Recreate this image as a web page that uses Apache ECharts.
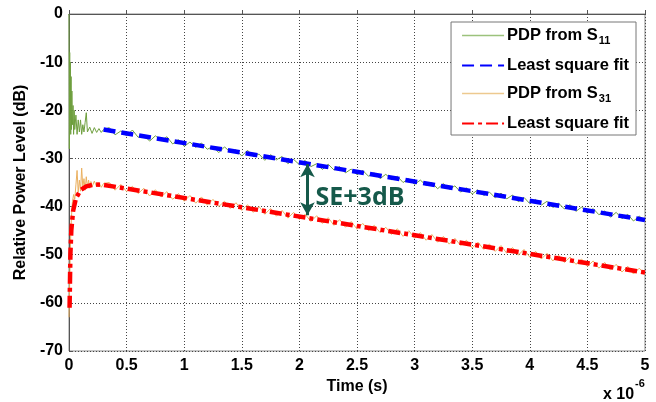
<!DOCTYPE html>
<html><head><meta charset="utf-8">
<script src="https://cdn.jsdelivr.net/npm/echarts@6/dist/echarts.min.js"></script>
<style>html,body{margin:0;padding:0;background:#fff}#c{width:656px;height:402px}</style>
</head><body><div id="c"></div>
<script>
// time in microseconds (axis shows x 10^-6 s)
const s11Time = [0,0.003,0.006,0.009,0.012,0.015,0.018,0.021,0.025,0.03,0.035,0.04,0.045,0.05,0.06,0.07,0.08,0.09,0.1,0.11,0.12,0.13,0.14,0.15,0.16,0.18,0.2,0.22,0.24,0.26,0.28,0.3,
0.35,0.4,0.45,0.5,0.55,0.6,0.65,0.7,0.75,0.8,0.85,0.9,0.95,1,1.05,1.1,1.15,1.2,1.25,1.3,1.35,1.4,1.45,1.5,1.55,1.6,1.65,1.7,1.75,1.8,1.85,1.9,1.95,2,2.05,2.1,2.15,2.2,2.25,2.3,2.35,2.4,2.45,2.5,2.55,2.6,2.65,2.7,2.75,2.8,2.85,2.9,2.95,3,3.05,3.1,3.15,3.2,3.25,3.3,3.35,3.4,3.45,3.5,3.55,3.6,3.65,3.7,3.75,3.8,3.85,3.9,3.95,4,4.05,4.1,4.15,4.2,4.25,4.3,4.35,4.4,4.45,4.5,4.55,4.6,4.65,4.7,4.75,4.8,4.85,4.9,4.95,5];
const s11Power = [0,-28,-8,-22,-10,-25,-13,-24,-16,-23,-19,-25,-20,-24,-21,-25,-22,-24.5,-22,-25,-23,-24.5,-22.5,-20.5,-24.5,-23.5,-24.8,-23.6,-24.6,-23.8,-24.6,-24,
-23.6,-25.1,-24.3,-25.3,-24.1,-25.6,-25.2,-26.4,-25.3,-26.3,-25.5,-27.0,-26.1,-27.5,-26.6,-27.7,-26.8,-28.1,-27.5,-28.8,-27.6,-28.7,-28.2,-29.5,-28.3,-29.6,-29.1,-30.4,-29.2,-30.3,-29.6,-31.1,-30.2,-31.3,-30.4,-31.7,-31.1,-32.3,-31.2,-32.4,-31.7,-33.0,-32.2,-33.4,-32.5,-33.7,-33.0,-34.2,-33.3,-34.4,-33.7,-35.0,-34.2,-35.4,-34.5,-35.6,-35.0,-36.3,-35.2,-36.4,-35.7,-37.0,-36.1,-37.4,-36.5,-37.7,-37.0,-38.2,-37.2,-38.4,-37.6,-39.0,-38.1,-39.4,-38.5,-39.7,-38.9,-40.2,-39.3,-40.5,-39.6,-41.0,-40.1,-41.4,-40.4,-41.7,-40.9,-42.2,-41.2,-42.5,-41.6,-43.0,-42.0,-42.9];

const s31Time = [0,0.005,0.01,0.015,0.02,0.025,0.03,0.04,0.05,0.06,0.07,0.08,0.09,0.1,0.11,0.12,0.13,0.14,0.15,0.16,0.17,0.18,0.19,0.2,0.22,0.24,0.26,0.28,0.3,
0.35,0.4,0.45,0.5,0.55,0.6,0.65,0.7,0.75,0.8,0.85,0.9,0.95,1,1.05,1.1,1.15,1.2,1.25,1.3,1.35,1.4,1.45,1.5,1.55,1.6,1.65,1.7,1.75,1.8,1.85,1.9,1.95,2,2.05,2.1,2.15,2.2,2.25,2.3,2.35,2.4,2.45,2.5,2.55,2.6,2.65,2.7,2.75,2.8,2.85,2.9,2.95,3,3.05,3.1,3.15,3.2,3.25,3.3,3.35,3.4,3.45,3.5,3.55,3.6,3.65,3.7,3.75,3.8,3.85,3.9,3.95,4,4.05,4.1,4.15,4.2,4.25,4.3,4.35,4.4,4.45,4.5,4.55,4.6,4.65,4.7,4.75,4.8,4.85,4.9,4.95,5];
const s31Power = [-63,-57,-51,-46,-43,-40.5,-39,-37.5,-38.5,-35.5,-32.5,-37,-34.5,-36.8,-32,-36,-34.2,-36.6,-33.8,-36,-34.5,-36.2,-34.8,-35.9,-34.7,-35.9,-35.0,-36.0,-35.2,
-35.0,-36.6,-35.4,-36.9,-35.8,-37.3,-36.2,-37.8,-36.5,-38.0,-36.9,-38.5,-37.3,-38.9,-37.7,-39.3,-38.0,-39.7,-38.5,-40.0,-38.9,-40.4,-39.2,-40.8,-39.6,-41.2,-40.0,-41.6,-40.4,-42.0,-40.8,-42.4,-41.2,-42.7,-41.6,-43.1,-41.9,-43.5,-42.3,-43.9,-42.7,-44.3,-43.1,-44.7,-43.5,-45.0,-43.9,-45.4,-44.3,-45.8,-44.6,-46.2,-45.0,-46.6,-45.4,-47.0,-45.8,-47.4,-46.2,-47.8,-46.6,-48.1,-47.0,-48.6,-47.4,-48.9,-47.8,-49.3,-48.1,-49.7,-48.5,-50.1,-48.9,-50.5,-49.3,-50.9,-49.7,-51.3,-50.1,-51.6,-50.5,-52.0,-50.9,-52.4,-51.3,-52.8,-51.6,-53.2,-52.0,-53.6,-52.4,-54.0,-52.8,-54.1];

const fit11Time = [0.3, 5];
const fit11Power = [-24.0, -42.8];
const fit31Time = [0.005,0.012,0.02,0.035,0.06,0.1,0.15,0.22,0.3,5];
const fit31Power = [-61,-50,-45,-41,-38.3,-36.6,-35.8,-35.4,-35.5,-53.7];

const xTickLabels = ['0','0.5','1','1.5','2','2.5','3','3.5','4','4.5','5'];
const yTickLabels = ['-70','-60','-50','-40','-30','-20','-10','0'];
const seriesNames = ['PDP from S11','Least square fit','PDP from S31','Least square fit '];
const arrowTime = 2.07, arrowTop = -31.2, arrowBottom = -41.8;
const annoText = 'SE+3dB';

const zip = (a,b)=>a.map((v,i)=>[v,b[i]]);
const chart = echarts.init(document.getElementById('c'), null, {renderer:'canvas'});
const F = 'Liberation Sans, Arial, sans-serif';
const teal = '#15594a';
const noFill = 'rgba(0,0,0,0)';
chart.setOption({
  animation:false,
  grid:{left:69,right:11,top:14,bottom:51,show:true,borderColor:'#8a8a8a',borderWidth:1,backgroundColor:'transparent'},
  xAxis:{type:'value',min:0,max:5,interval:0.5,
    name:'Time (s)',nameLocation:'middle',nameGap:26,
    nameTextStyle:{fontFamily:F,fontWeight:'bold',fontSize:16,color:'#000'},
    axisLine:{lineStyle:{color:'#555',width:1}},
    axisTick:{inside:true,length:4,lineStyle:{color:'#555'}},
    axisLabel:{fontFamily:F,fontWeight:'bold',fontSize:16,color:'#000',margin:7,
      formatter:(v,i)=>xTickLabels[i]},
    splitLine:{show:true,lineStyle:{color:'#444',type:[1,2],width:1}}},
  yAxis:{type:'value',min:-70,max:0,interval:10,
    name:'Relative Power Level (dB)',nameLocation:'middle',nameGap:34,
    nameTextStyle:{fontFamily:F,fontWeight:'bold',fontSize:16,color:'#000'},
    axisLine:{show:true,lineStyle:{color:'#555',width:1}},
    axisTick:{show:true,inside:true,length:4,lineStyle:{color:'#555'}},
    axisLabel:{fontFamily:F,fontWeight:'bold',fontSize:16,color:'#000',margin:6,
      formatter:(v,i)=>yTickLabels[i]},
    splitLine:{show:true,lineStyle:{color:'#444',type:[1,2],width:1}}},
  legend:{orient:'vertical',right:20,top:22,
    data:[{name:seriesNames[0],lineStyle:{color:'#9cc27c',width:1.5}},
          {name:seriesNames[1]},
          {name:seriesNames[2],lineStyle:{color:'#edc98f',width:1.5}},
          {name:seriesNames[3]}],
    backgroundColor:'#fff',borderColor:'#777',borderWidth:1,borderRadius:0,
    padding:[5,7,3,10],itemWidth:42,itemHeight:12,itemGap:11,
    itemStyle:{opacity:0,color:noFill,borderWidth:0},
    textStyle:{fontFamily:F,fontWeight:'bold',fontSize:16.5,color:'#000',padding:[0,0,0,-2],
      rich:{sub:{fontFamily:F,fontWeight:'bold',fontSize:11,color:'#000',padding:[10,0,0,1]}}},
    formatter:n=>{
      if(n==='PDP from S11') return 'PDP from S{sub|11}';
      if(n==='PDP from S31') return 'PDP from S{sub|31}';
      return n.trim();
    }},
  series:[
    {name:seriesNames[0],type:'line',data:zip(s11Time,s11Power),symbol:'none',z:2,
      lineStyle:{color:'#6f9f3f',width:1},itemStyle:{color:noFill}},
    {name:seriesNames[1],type:'line',data:zip(fit11Time,fit11Power),symbol:'none',z:4,
      lineStyle:{color:'#0000ff',width:4.5,type:[12,6]},itemStyle:{color:noFill},
      markLine:{silent:true,symbol:['arrow','arrow'],symbolSize:[11,13],
        lineStyle:{color:teal,width:3,type:'solid'},itemStyle:{color:teal},label:{show:false},
        data:[[{coord:[arrowTime,arrowTop]},{coord:[arrowTime,arrowBottom]}]]},
      markPoint:{symbol:'circle',symbolSize:0,itemStyle:{color:noFill},
        label:{show:true,position:[0,0],align:'left',verticalAlign:'middle',
          formatter:annoText,fontFamily:'Open Sans, sans-serif',fontWeight:'bold',fontSize:25,color:teal},
        data:[{coord:[2.14,-38.2]}]}},
    {name:seriesNames[2],type:'line',data:zip(s31Time,s31Power),symbol:'none',z:2,
      lineStyle:{color:'#eab060',width:1},itemStyle:{color:noFill}},
    {name:seriesNames[3],type:'line',data:zip(fit31Time,fit31Power),symbol:'none',z:4,
      lineStyle:{color:'#ff0000',width:4.5,type:[12,4,4,4]},itemStyle:{color:noFill}}
  ],
  graphic:[
    {type:'text',left:603,top:387,style:{text:'x 10',fontFamily:F,fontWeight:'bold',fontSize:16,fill:'#000'}},
    {type:'text',left:635,top:378,style:{text:'-6',fontFamily:F,fontWeight:'bold',fontSize:11,fill:'#000'}}
  ]
});
</script></body></html>
